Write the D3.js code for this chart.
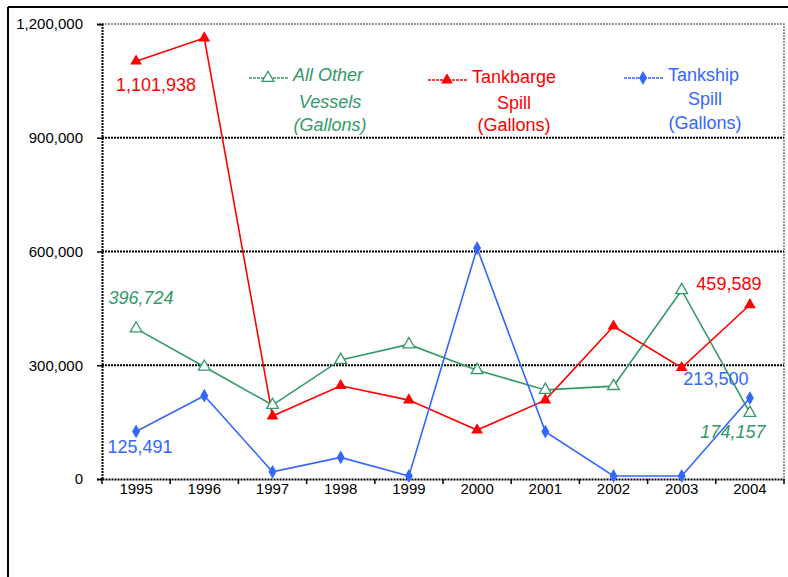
<!DOCTYPE html>
<html>
<head>
<meta charset="utf-8">
<script src="https://cdn.jsdelivr.net/npm/d3@7"></script>
<style>
  body { margin: 0; background: #fff; }
  svg { font-family: "Liberation Sans", Arial, sans-serif; }
</style>
</head>
<body>
<div class="chart"></div>
<script>
// spill volumes by year
var years = ["1995", "1996", "1997", "1998", "1999", "2000", "2001", "2002", "2003", "2004"];
var otherVessels = [396724, 296000, 195000, 314000, 355000, 287000, 235000, 245000, 498000, 174157];
var tankbarge = [1101938, 1163000, 166000, 246000, 208000, 129000, 208000, 403000, 293500, 459589];
var tankship = [125491, 219700, 19000, 57000, 8000, 609000, 125000, 8000, 8000, 213500];
var yTicks = [0, 300000, 600000, 900000, 1200000];

var width = 788,
    height = 577;

var margin = {top: 24, right: 4, bottom: 98, left: 102};

var svg = d3.select(".chart").append("svg")
    .attr("width", width)
    .attr("height", height);

// outer frame (left + top)
svg.append("line").attr("x1", 8).attr("x2", 8).attr("y1", 7).attr("y2", height)
    .attr("stroke", "#000").attr("stroke-width", 2);
svg.append("line").attr("x1", 8).attr("x2", width).attr("y1", 7).attr("y2", 7)
    .attr("stroke", "#000").attr("stroke-width", 2);

var x = d3.scaleBand()
    .domain(years)
    .range([margin.left, width - margin.right]);

var y = d3.scaleLinear()
    .domain([0, 1200000])
    .range([height - margin.bottom, margin.top]);

// plot area border (gray dotted top/right)
svg.append("path")
    .attr("d", "M" + x.range()[0] + "," + y(1200000) + "H" + x.range()[1] + "V" + y(0))
    .attr("fill", "none")
    .attr("stroke", "#777")
    .attr("stroke-width", 1.5)
    .attr("stroke-dasharray", "2,1");

// gridlines
svg.append("g")
    .selectAll("line")
    .data(yTicks.slice(1, 4))
    .enter().append("line")
    .attr("x1", x.range()[0])
    .attr("x2", x.range()[1])
    .attr("y1", function(d) { return y(d); })
    .attr("y2", function(d) { return y(d); })
    .attr("stroke", "#000")
    .attr("stroke-width", 2)
    .attr("stroke-dasharray", "2,1");

// y axis
var yAxis = svg.append("g")
    .attr("transform", "translate(" + margin.left + ",0)")
    .call(d3.axisLeft(y).tickValues(yTicks).tickSize(5).tickPadding(14).tickFormat(d3.format(",")));
yAxis.select(".domain").attr("stroke-width", 2).attr("stroke-dasharray", "2,1");
yAxis.selectAll(".tick line").attr("stroke-width", 1.5);
yAxis.selectAll("text").attr("font-size", 15).attr("fill", "#000")
    .attr("font-family", "Liberation Sans, Arial, sans-serif");

// x axis: ticks between categories
var xAxis = svg.append("g")
    .attr("transform", "translate(0," + y(0) + ")")
    .call(d3.axisBottom(x).tickSize(0).tickPadding(4));
xAxis.select(".domain").attr("stroke-width", 2).attr("stroke-dasharray", "2,1");
xAxis.selectAll("text").attr("font-size", 15).attr("fill", "#000")
    .attr("font-family", "Liberation Sans, Arial, sans-serif");
xAxis.selectAll(".sep")
    .data(years.concat(["end"]))
    .enter().append("line")
    .attr("class", "sep")
    .attr("x1", function(d, i) { return x.range()[0] + i * x.step(); })
    .attr("x2", function(d, i) { return x.range()[0] + i * x.step(); })
    .attr("y1", 0).attr("y2", 5)
    .attr("stroke", "#000").attr("stroke-width", 1.5);

var cx = function(d, i) { return x(years[i]) + x.bandwidth() / 2; };

var series = [
    {name: "other", values: otherVessels, color: "#339966", marker: "open"},
    {name: "barge", values: tankbarge, color: "#ff0000", marker: "tri"},
    {name: "ship", values: tankship, color: "#3366ff", marker: "diamond"}
];

var line = d3.line()
    .x(cx)
    .y(function(d) { return y(d); });

function drawMarker(sel, s) {
    if (s.marker === "diamond") {
        sel.append("path")
            .attr("d", d3.symbol().type(d3.symbolDiamond).size(55))
            .attr("fill", s.color);
    } else if (s.marker === "tri") {
        sel.append("path")
            .attr("d", d3.symbol().type(d3.symbolTriangle).size(60))
            .attr("fill", s.color);
    } else {
        sel.append("path")
            .attr("d", d3.symbol().type(d3.symbolTriangle).size(60))
            .attr("fill", "#fff")
            .attr("stroke", s.color)
            .attr("stroke-width", 1.3);
    }
}

series.forEach(function(s) {
    svg.append("path")
        .datum(s.values)
        .attr("d", line)
        .attr("fill", "none")
        .attr("stroke", s.color)
        .attr("stroke-width", 1.6);
});

series.forEach(function(s) {
    svg.append("g").selectAll("g")
        .data(s.values)
        .enter().append("g")
        .attr("transform", function(d, i) { return "translate(" + cx(d, i) + "," + y(d) + ")"; })
        .each(function() { drawMarker(d3.select(this), s); });
});

// data labels
var labels = [
    {s: 1, i: 0, dx: 20, dy: 25, color: "#ff0000", italic: false},
    {s: 1, i: 9, dx: -21, dy: -19, color: "#ff0000", italic: false},
    {s: 0, i: 0, dx: 5, dy: -29, color: "#339966", italic: true},
    {s: 0, i: 9, dx: -17, dy: 20, color: "#339966", italic: true},
    {s: 2, i: 0, dx: 4, dy: 17, color: "#3366ff", italic: false},
    {s: 2, i: 9, dx: -34, dy: -18, color: "#3366ff", italic: false}
];
var fmt = d3.format(",");
svg.append("g").selectAll("text")
    .data(labels)
    .enter().append("text")
    .attr("x", function(d) { return cx(null, d.i) + d.dx; })
    .attr("y", function(d) { return y(series[d.s].values[d.i]) + d.dy; })
    .attr("text-anchor", "middle")
    .attr("dominant-baseline", "middle")
    .attr("font-size", 18)
    .attr("font-style", function(d) { return d.italic ? "italic" : "normal"; })
    .attr("fill", function(d) { return d.color; })
    .text(function(d) { return fmt(series[d.s].values[d.i]); });

// legend
var legend = [
    {s: 0, x: 249, y: 78, lines: ["All Other", "Vessels", "(Gallons)"], italic: true, cxText: 330, ty: [103, 126]},
    {s: 1, x: 428, y: 80, lines: ["Tankbarge", "Spill", "(Gallons)"], italic: false, cxText: 514, ty: [104, 126]},
    {s: 2, x: 624, y: 78, lines: ["Tankship", "Spill", "(Gallons)"], italic: false, cxText: 705, ty: [100, 124]}
];
legend.forEach(function(l) {
    var s = series[l.s];
    var g = svg.append("g");
    g.append("line")
        .attr("x1", l.x).attr("x2", l.x + 39)
        .attr("y1", l.y).attr("y2", l.y)
        .attr("stroke", s.color).attr("stroke-width", 1.6)
        .attr("stroke-dasharray", "3,1");
    drawMarker(g.append("g").attr("transform", "translate(" + (l.x + 19) + "," + l.y + ")"), s);
    g.append("text")
        .attr("x", l.x + 44).attr("y", l.y - 2)
        .attr("dominant-baseline", "middle")
        .attr("font-size", 18)
        .attr("font-style", l.italic ? "italic" : "normal")
        .attr("fill", s.color)
        .text(l.lines[0]);
    g.selectAll(".sub")
        .data(l.lines.slice(1))
        .enter().append("text")
        .attr("class", "sub")
        .attr("x", l.cxText)
        .attr("y", function(d, i) { return l.ty[i]; })
        .attr("text-anchor", "middle")
        .attr("dominant-baseline", "middle")
        .attr("font-size", 18)
        .attr("font-style", l.italic ? "italic" : "normal")
        .attr("fill", s.color)
        .text(function(d) { return d; });
});
</script>
</body>
</html>
